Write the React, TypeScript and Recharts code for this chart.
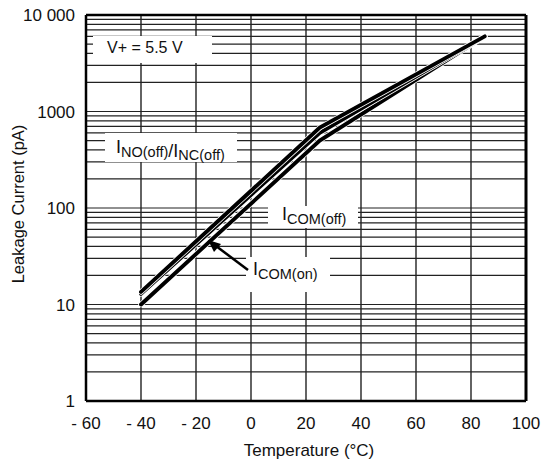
import React from "react";
import { LineChart, Line, XAxis, YAxis, ReferenceLine } from "recharts";

// temperature (°C) and leakage currents (pA)
const TEMPS = [-40, 25, 85];
const INO_OFF = [13.5, 680, 6000];
const ICOM_OFF = [12.9, 600, 6000];
const ICOM_ON = [10, 500, 6000];

const X_TICKS = [-60, -40, -20, 0, 20, 40, 60, 80, 100];
const Y_TICKS = [1, 10, 100, 1000, 10000];
const DECADES = [1, 10, 100, 1000];
const MULTS = [2, 3, 4, 5, 6, 7, 8, 9];

const FONT = "'Liberation Sans', Arial, Helvetica, sans-serif";
const GRID = "#222";

const data = TEMPS.map((t, i) => ({
  t,
  inoOff: INO_OFF[i],
  icomOff: ICOM_OFF[i],
  icomOn: ICOM_ON[i],
}));

const hLines = [
  ...DECADES.slice(1),
  ...DECADES.flatMap((d) => MULTS.map((m) => d * m)),
];
const vLines = X_TICKS.slice(1, -1);

const fmtX = (v: number) => (v < 0 ? `- ${-v}` : `${v}`);
const fmtY = (v: number) => (v === 10000 ? "10 000" : `${v}`);

const tickStyle = { fill: "#111", fontSize: 17, fontFamily: FONT };

function Sub({ main, sub }: { main: string; sub: string }) {
  return (
    <>
      <tspan fontSize={18}>{main}</tspan>
      <tspan fontSize={14.5} dy={3.5}>
        {sub}
      </tspan>
      <tspan dy={-3.5}>{""}</tspan>
    </>
  );
}

// white halo under each curve so the bundle shows thin gaps like the print
function curve(key: string) {
  return [
    <Line key={`${key}-halo`} type="linear" dataKey={key} stroke="#fff" strokeWidth={5.4} strokeLinecap="round" dot={false} isAnimationActive={false} />,
    <Line key={key} type="linear" dataKey={key} stroke="#000" strokeWidth={3.9} strokeLinecap="round" dot={false} isAnimationActive={false} />,
  ];
}

export default function App() {
  return (
    <div style={{ position: "fixed", left: 0, top: 0, width: 543, height: 459, background: "#fff" }}>
      <LineChart
        width={543}
        height={459}
        data={data}
        margin={{ top: 15, right: 17, bottom: 18, left: 10 }}
      >
        <XAxis
          dataKey="t"
          type="number"
          domain={[-60, 100]}
          ticks={X_TICKS}
          tickFormatter={fmtX}
          tick={tickStyle}
          tickLine={false}
          axisLine={false}
          tickSize={0}
          tickMargin={16}
          height={40}
          allowDataOverflow
        />
        <YAxis
          scale="log"
          domain={[1, 10000]}
          ticks={Y_TICKS}
          tickFormatter={fmtY}
          tick={tickStyle}
          tickLine={false}
          axisLine={false}
          tickSize={0}
          tickMargin={11}
          width={76}
          allowDataOverflow
        />
        {hLines.map((v) => (
          <ReferenceLine key={`h${v}`} y={v} stroke={GRID} strokeWidth={1.2} />
        ))}
        {vLines.map((v) => (
          <ReferenceLine key={`v${v}`} x={v} stroke={GRID} strokeWidth={1.4} />
        ))}
        <ReferenceLine x={-60} stroke="#000" strokeWidth={2.5} />
        <ReferenceLine x={100} stroke="#000" strokeWidth={3} />
        <ReferenceLine y={1} stroke="#000" strokeWidth={2.5} />
        <ReferenceLine y={10000} stroke="#000" strokeWidth={2.5} />
        {curve("icomOn")}
        {curve("icomOff")}
        {curve("inoOff")}
      </LineChart>

      <svg
        width={543}
        height={459}
        style={{ position: "absolute", left: 0, top: 0, pointerEvents: "none" }}
        fontFamily={FONT}
        fill="#111"
      >
        {/* annotation boxes */}
        <rect x={93} y={36} width={119} height={27} fill="#fff" />
        <text x={107} y={53} fontSize={16}>V+ = 5.5 V</text>

        <rect x={105} y={133} width={132} height={29} fill="#fff" />
        <text x={116} y={153}>
          <Sub main="I" sub="NO(off)" />
          <tspan fontSize={18}>/I</tspan>
          <tspan fontSize={14.5} dy={3.5}>NC(off)</tspan>
        </text>

        <rect x={268} y={206} width={90} height={22} fill="#fff" />
        <text x={282} y={220}>
          <Sub main="I" sub="COM(off)" />
        </text>

        <rect x={246} y={257} width={84} height={35} fill="#fff" />
        <text x={253} y={275}>
          <Sub main="I" sub="COM(on)" />
        </text>

        {/* arrow to ICOM(on) */}
        <line x1={248} y1={270} x2={216} y2={246} stroke="#000" strokeWidth={2.5} />
        <polygon points="208,240 221,244 214,252" fill="#000" />

        {/* axis titles */}
        <text x={309} y={456} fontSize={17} textAnchor="middle">
          Temperature (°C)
        </text>
        <text
          x={0}
          y={0}
          fontSize={16.5}
          textAnchor="middle"
          transform="translate(24,204) rotate(-90)"
        >
          Leakage Current (pA)
        </text>
      </svg>
    </div>
  );
}
